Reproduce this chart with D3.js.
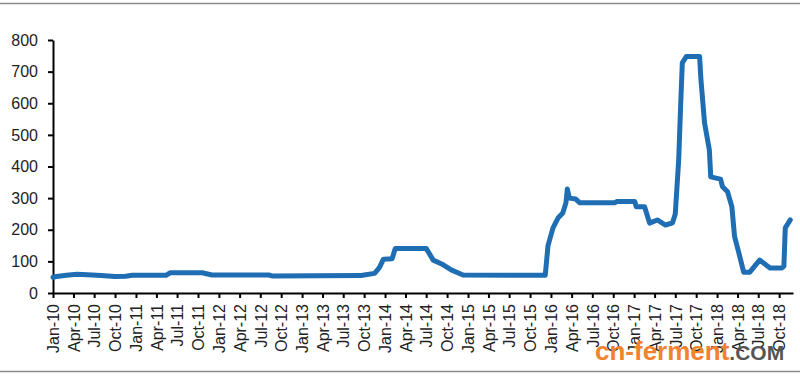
<!DOCTYPE html>
<html>
<head>
<meta charset="utf-8">
<script src="https://cdn.jsdelivr.net/npm/d3@7"></script>
<style>
  body { margin: 0; background: #fff; }
  svg { display: block; font-family: "Liberation Sans", Arial, sans-serif; }
</style>
</head>
<body>
<div id="chart"></div>
<script>
// dates of the turning points
var dates = [
    "2010-01-01", "2010-01-16", "2010-03-01", "2010-04-16", "2010-06-01", "2010-08-01",
    "2010-10-01", "2010-11-16", "2010-12-16", "2011-05-13", "2011-06-01", "2011-10-19",
    "2011-12-01", "2012-08-07", "2012-08-22", "2013-09-16", "2013-10-01", "2013-11-16",
    "2013-12-07", "2013-12-25", "2014-02-01", "2014-02-15", "2014-07-01", "2014-08-01",
    "2014-09-07", "2014-10-19", "2014-12-10", "2015-12-07", "2015-12-19", "2016-01-10",
    "2016-02-01", "2016-02-22", "2016-03-07", "2016-03-13", "2016-03-22", "2016-04-19",
    "2016-05-07", "2016-10-07", "2016-10-16", "2017-01-04", "2017-01-10", "2017-02-16",
    "2017-03-10", "2017-04-13", "2017-05-19", "2017-06-19", "2017-07-01", "2017-07-16",
    "2017-07-25", "2017-08-01", "2017-08-19", "2017-10-16", "2017-10-22", "2017-11-07",
    "2017-11-28", "2017-12-04", "2018-01-16", "2018-01-25", "2018-02-16", "2018-03-07",
    "2018-03-19", "2018-04-07", "2018-04-28", "2018-05-25", "2018-07-07", "2018-08-22",
    "2018-10-13", "2018-10-22", "2018-10-28", "2018-11-19"
];
var values = [
    50, 52, 56, 59, 58, 55,
    52, 53, 56, 56, 64, 64,
    57, 57, 54, 55, 57, 62,
    80, 107, 108, 141, 141, 104,
    92, 73, 57, 56, 150, 206,
    237, 253, 285, 329, 300, 297,
    285, 285, 289, 289, 273, 273,
    221, 231, 215, 222, 250, 420,
    600, 728, 748, 748, 674, 537,
    452, 367, 360, 336, 320, 273,
    178, 126, 66, 66, 104, 79,
    79, 85, 206, 231
];
var yTicks = [0, 100, 200, 300, 400, 500, 600, 700, 800];

var width = 800, height = 376;
var margin = { top: 40, right: 5, bottom: 83, left: 53 };

var parse = d3.timeParse("%Y-%m-%d");
var data = dates.map(function(d, i) {
    return { date: parse(d), value: values[i] };
});

var svg = d3.select("#chart")
    .append("svg")
    .attr("width", width)
    .attr("height", height);

// frame lines top and bottom
svg.append("line")
    .attr("x1", 0).attr("x2", width)
    .attr("y1", 3.5).attr("y2", 3.5)
    .attr("stroke", "#8a8a8a").attr("stroke-width", 1.5);
svg.append("line")
    .attr("x1", 0).attr("x2", width)
    .attr("y1", 371.5).attr("y2", 371.5)
    .attr("stroke", "#8a8a8a").attr("stroke-width", 1.5);

var x = d3.scaleTime()
    .domain([parse("2010-01-01"), parse("2018-12-01")])
    .range([margin.left, width - margin.right - 2]);

var y = d3.scaleLinear()
    .domain([0, 800])
    .range([height - margin.bottom, margin.top]);

// y axis
var yAxis = svg.append("g")
    .attr("transform", "translate(" + margin.left + ",0)")
    .call(d3.axisLeft(y).tickValues(yTicks).tickSize(5).tickSizeOuter(0).tickPadding(10));

// x axis
var xTicks = d3.timeMonth.every(3).range(parse("2010-01-01"), parse("2018-11-01"));
var xAxis = svg.append("g")
    .attr("transform", "translate(0," + y(0) + ")")
    .call(d3.axisBottom(x).tickValues(xTicks).tickSize(5).tickSizeOuter(0)
        .tickFormat(d3.timeFormat("%b-%y")));

xAxis.selectAll(".tick text")
    .attr("transform", "rotate(-90)")
    .attr("text-anchor", "end")
    .attr("x", -11)
    .attr("y", 0)
    .attr("dy", "0.36em")
    .style("font-size", "16px")
    .attr("fill", "#222");

yAxis.selectAll(".tick text")
    .style("font-size", "16px")
    .attr("fill", "#222");

svg.selectAll(".domain")
    .attr("stroke", "#000")
    .attr("stroke-width", 2);
svg.selectAll(".tick line")
    .attr("stroke", "#000")
    .attr("stroke-width", 2);

// the line
var line = d3.line()
    .x(function(d) { return x(d.date); })
    .y(function(d) { return y(d.value); });

svg.append("path")
    .datum(data)
    .attr("fill", "none")
    .attr("stroke", "#1f6eb3")
    .attr("stroke-width", 5)
    .attr("stroke-linejoin", "round")
    .attr("stroke-linecap", "round")
    .attr("d", line);

// watermark
var wm = svg.append("text")
    .attr("x", 595)
    .attr("y", 360)
    .style("font-weight", "bold");
wm.append("tspan")
    .attr("fill", "#f2822e")
    .style("font-size", "26px")
    .text("cn-ferment");
wm.append("tspan")
    .attr("fill", "#555")
    .style("font-size", "21px")
    .text(".COM");
</script>
</body>
</html>
